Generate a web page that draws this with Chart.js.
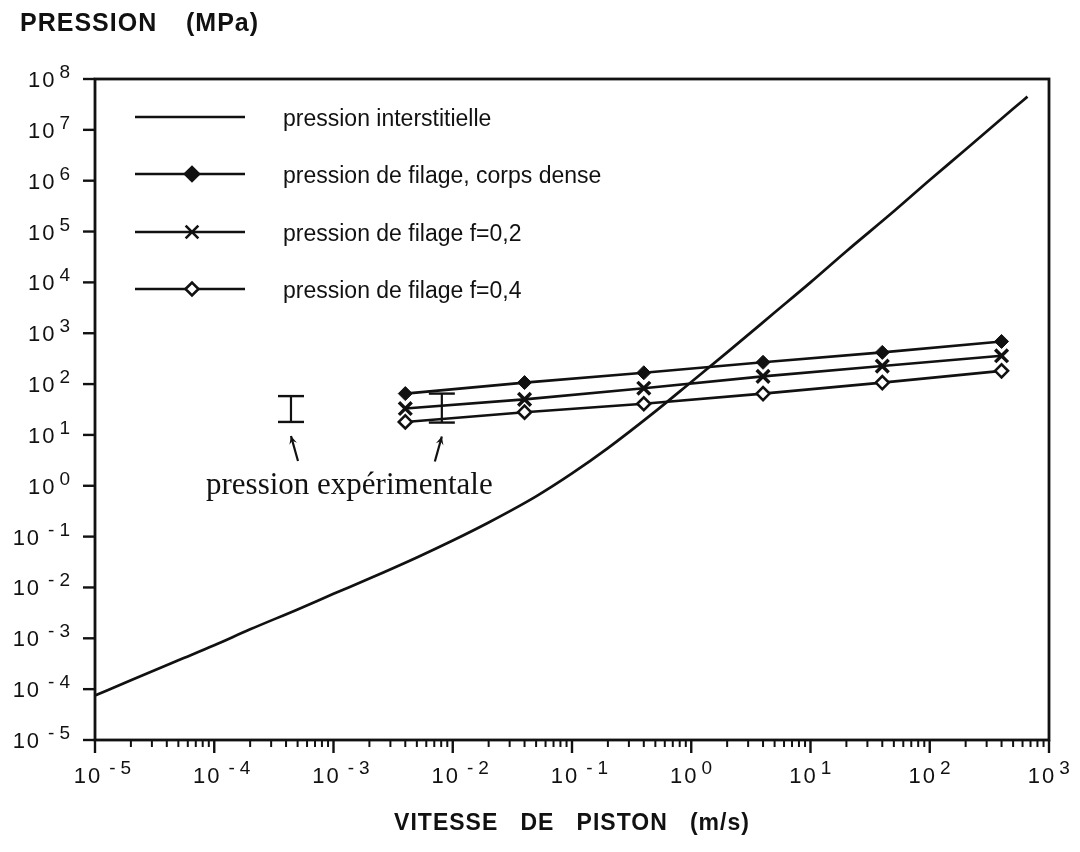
<!DOCTYPE html>
<html lang="fr">
<head>
<meta charset="utf-8">
<script src="https://cdn.jsdelivr.net/npm/chart.js@4.4.1/dist/chart.umd.min.js"></script>
<style>
  html, body { margin: 0; padding: 0; background: #ffffff; }
  #cadre { width: 1080px; height: 852px; }
</style>
</head>
<body>
<div id="cadre"><canvas id="graphe" width="1080" height="852"></canvas></div>
<script>
// Pression de filage calculée en fonction de la vitesse de piston (m/s)
const vitesseFilage = [0.004, 0.04, 0.4, 4, 40, 400];
const pressionCorpsDense = [65, 107, 167, 268, 420, 690];
const pressionF02 = [33, 50, 83, 142, 226, 360];
const pressionF04 = [18, 28, 41, 65, 107, 182];

// Pression interstitielle
const vitesseInterstitielle = [1e-5, 2e-5, 5e-5, 1e-4, 2e-4, 5e-4, 1e-3, 2e-3, 5e-3, 1e-2, 2e-2, 5e-2,
  0.1, 0.2, 0.5, 1, 2, 5, 10, 20, 50, 100, 200, 500, 660];
const pressionInterstitielle = [7.5e-5, 1.5e-4, 3.7e-4, 7.3e-4, 1.5e-3, 3.7e-3, 7.5e-3, 1.5e-2, 3.9e-2, 8.4e-2, 0.19, 0.62,
  1.75, 5.5, 29, 110, 420, 2550, 1.0e4, 4.1e4, 2.5e5, 1.03e6, 4.1e6, 2.6e7, 4.5e7];

// Pression expérimentale : vitesse, borne basse, borne haute
const vitesseExperience = [4.4e-4, 8.1e-3];
const pressionExpMin = [18, 17.5];
const pressionExpMax = [58, 65];

// Exposants des graduations (puissances de dix)
const exposantsX = [-5, -4, -3, -2, -1, 0, 1, 2, 3];
const exposantsY = [-5, -4, -3, -2, -1, 0, 1, 2, 3, 4, 5, 6, 7, 8];

const libelles = [
  'pression interstitielle',
  'pression de filage, corps dense',
  'pression de filage f=0,2',
  'pression de filage f=0,4'
];

const paires = (xs, ys) => xs.map((x, i) => ({ x: x, y: ys[i] }));

const NOIR = '#111111';
const SANS = '"Liberation Sans", Arial, Helvetica, sans-serif';
const SERIF = '"Liberation Serif", "Times New Roman", serif';

const jeux = [
  {
    label: libelles[0],
    data: paires(vitesseInterstitielle, pressionInterstitielle),
    showLine: true, borderColor: NOIR, borderWidth: 2.7,
    pointRadius: 0, cubicInterpolationMode: 'monotone'
  },
  {
    label: libelles[1],
    data: paires(vitesseFilage, pressionCorpsDense),
    showLine: true, borderColor: NOIR, borderWidth: 2.6,
    pointStyle: 'rectRot', pointRadius: 7, pointBackgroundColor: NOIR,
    pointBorderColor: NOIR, pointBorderWidth: 1
  },
  {
    label: libelles[2],
    data: paires(vitesseFilage, pressionF02),
    showLine: true, borderColor: NOIR, borderWidth: 2.6,
    pointStyle: 'crossRot', pointRadius: 9, pointBorderColor: NOIR,
    pointBorderWidth: 3.4
  },
  {
    label: libelles[3],
    data: paires(vitesseFilage, pressionF04),
    showLine: true, borderColor: NOIR, borderWidth: 2.6,
    pointStyle: 'rectRot', pointRadius: 6.5, pointBackgroundColor: '#ffffff',
    pointBorderColor: NOIR, pointBorderWidth: 2.6
  }
];

// Barres en « I » de la pression expérimentale
vitesseExperience.forEach((v, i) => {
  jeux.push({
    label: 'experience' + i,
    data: [{ x: v, y: pressionExpMin[i] }, { x: v, y: pressionExpMax[i] }],
    showLine: true, borderColor: NOIR, borderWidth: 2.2,
    pointStyle: 'line', pointRadius: 13, pointBorderColor: NOIR,
    pointBorderWidth: 2.4
  });
});

function marqueur(ctx, jeu, x, y) {
  Chart.helpers.drawPoint(ctx, {
    pointStyle: jeu.pointStyle, radius: jeu.pointRadius,
    borderWidth: jeu.pointBorderWidth, rotation: 0
  }, x, y);
}

function puissance(ctx, e, x, yMilieu, mode) {
  const policeBase = '22px ' + SANS;
  const policeExp = '19px ' + SANS;
  ctx.font = policeBase;
  ctx.letterSpacing = '2px';
  const wBase = ctx.measureText('10').width;
  ctx.font = policeExp;
  ctx.letterSpacing = '0px';
  const chiffre = String(Math.abs(e));
  const wSigne = e < 0 ? ctx.measureText('-').width + 5 : 0;
  const wChiffre = ctx.measureText(chiffre).width;
  const ecart = e < 0 ? 7 : 3;
  const total = wBase + ecart + wSigne + wChiffre;
  let x0;
  if (mode === 'droite') x0 = x - total;
  else x0 = x - 7 - wBase / 2;
  const ligne = yMilieu + 8;
  ctx.fillStyle = NOIR;
  ctx.textAlign = 'left';
  ctx.textBaseline = 'alphabetic';
  ctx.font = policeBase;
  ctx.letterSpacing = '2px';
  ctx.fillText('10', x0, ligne);
  ctx.letterSpacing = '0px';
  ctx.font = policeExp;
  let xe = x0 + wBase + ecart;
  if (e < 0) {
    ctx.fillText('-', xe, ligne - 9);
    xe += wSigne;
  }
  ctx.fillText(chiffre, xe, ligne - 9);
}

function fleche(ctx, xPointe, yPointe, xQueue, yQueue) {
  ctx.beginPath();
  ctx.moveTo(xQueue, yQueue);
  ctx.lineTo(xPointe, yPointe);
  ctx.stroke();
  const a = Math.atan2(yPointe - yQueue, xPointe - xQueue);
  const L = 9;
  ctx.beginPath();
  ctx.moveTo(xPointe, yPointe);
  ctx.lineTo(xPointe - L * Math.cos(a - 0.45), yPointe - L * Math.sin(a - 0.45));
  ctx.lineTo(xPointe - L * 0.55 * Math.cos(a), yPointe - L * 0.55 * Math.sin(a));
  ctx.lineTo(xPointe - L * Math.cos(a + 0.45), yPointe - L * Math.sin(a + 0.45));
  ctx.closePath();
  ctx.fill();
}

const habillage = {
  id: 'habillage',
  afterDraw(chart) {
    const ctx = chart.ctx;
    const ca = chart.chartArea;
    const sx = chart.scales.x, sy = chart.scales.y;
    ctx.save();
    ctx.strokeStyle = NOIR;
    ctx.fillStyle = NOIR;
    ctx.lineCap = 'butt';

    // cadre
    ctx.lineWidth = 2.8;
    ctx.strokeRect(ca.left, ca.top, ca.right - ca.left, ca.bottom - ca.top);

    // graduations de l'axe des vitesses
    exposantsX.forEach((e, i) => {
      const px = sx.getPixelForValue(Math.pow(10, e));
      ctx.lineWidth = 2.4;
      ctx.beginPath();
      ctx.moveTo(px, ca.bottom);
      ctx.lineTo(px, ca.bottom + 13);
      ctx.stroke();
      if (i < exposantsX.length - 1) {
        for (let k = 2; k <= 9; k++) {
          const pm = sx.getPixelForValue(k * Math.pow(10, e));
          ctx.lineWidth = 2;
          ctx.beginPath();
          ctx.moveTo(pm, ca.bottom);
          ctx.lineTo(pm, ca.bottom + 7);
          ctx.stroke();
        }
      }
      puissance(ctx, e, px, ca.bottom + 35, 'centre');
    });

    // graduations de l'axe des pressions
    exposantsY.forEach(e => {
      const py = sy.getPixelForValue(Math.pow(10, e));
      ctx.lineWidth = 2.4;
      ctx.beginPath();
      ctx.moveTo(ca.left - 12, py);
      ctx.lineTo(ca.left, py);
      ctx.stroke();
      puissance(ctx, e, ca.left - 25, py, 'droite');
    });

    // titres des axes
    ctx.fillStyle = NOIR;
    ctx.textBaseline = 'alphabetic';
    ctx.textAlign = 'left';
    ctx.font = 'bold 25px ' + SANS;
    ctx.letterSpacing = '1px';
    ctx.fillText('PRESSION', 20, 31);
    ctx.fillText('(MPa)', 186, 31);
    ctx.font = 'bold 23px ' + SANS;
    ctx.textAlign = 'center';
    ctx.fillText('VITESSE   DE   PISTON   (m/s)', (ca.left + ca.right) / 2, 830);
    ctx.letterSpacing = '0px';

    // légende
    const yLeg = [117, 174, 232, 289];
    for (let i = 0; i < 4; i++) {
      const jeu = chart.data.datasets[i];
      const y = yLeg[i];
      ctx.lineWidth = 2.6;
      ctx.strokeStyle = NOIR;
      ctx.beginPath();
      ctx.moveTo(135, y);
      ctx.lineTo(245, y);
      ctx.stroke();
      if (i > 0) {
        ctx.fillStyle = jeu.pointBackgroundColor || NOIR;
        ctx.strokeStyle = NOIR;
        marqueur(ctx, jeu, 192, y);
      }
      ctx.fillStyle = NOIR;
      ctx.font = '23px ' + SANS;
      ctx.textAlign = 'left';
      ctx.textBaseline = 'middle';
      ctx.fillText(jeu.label, 283, y + 3);
    }

    // flèches et texte de la pression expérimentale
    ctx.strokeStyle = NOIR;
    ctx.fillStyle = NOIR;
    ctx.lineWidth = 2.2;
    vitesseExperience.forEach((v, i) => {
      const px = sx.getPixelForValue(v);
      const pb = sy.getPixelForValue(pressionExpMin[i]);
      const inclinaison = i === 0 ? 7 : -7;
      fleche(ctx, px, pb + 14, px + inclinaison, pb + 39);
    });
    ctx.font = '31px ' + SERIF;
    ctx.textAlign = 'left';
    ctx.textBaseline = 'alphabetic';
    ctx.fillText('pression expérimentale', 206, 494);

    ctx.restore();
  }
};

new Chart(document.getElementById('graphe'), {
  type: 'scatter',
  data: { datasets: jeux },
  options: {
    responsive: false,
    animation: false,
    devicePixelRatio: 1,
    layout: { padding: { top: 79, right: 31, left: 0, bottom: 0 } },
    plugins: { legend: { display: false }, tooltip: { enabled: false }, title: { display: false } },
    scales: {
      x: {
        type: 'logarithmic', min: 1e-5, max: 1e3,
        grid: { display: false }, border: { display: false },
        ticks: { display: false },
        afterFit(s) { s.height = 112; }
      },
      y: {
        type: 'logarithmic', min: 1e-5, max: 1e8,
        grid: { display: false }, border: { display: false },
        ticks: { display: false },
        afterFit(s) { s.width = 95; }
      }
    }
  },
  plugins: [habillage]
});
</script>
</body>
</html>
